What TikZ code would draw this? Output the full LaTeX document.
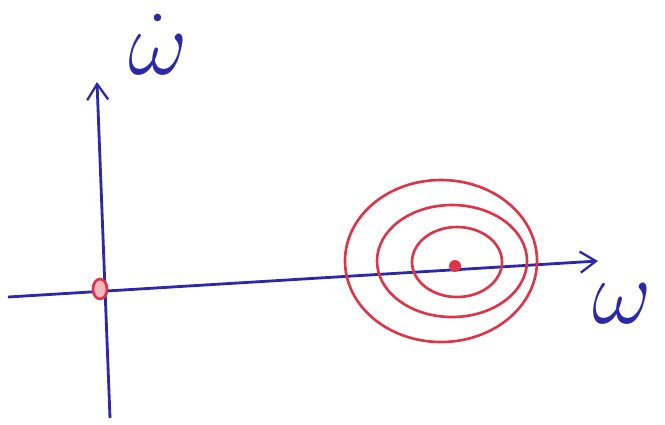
\documentclass[tikz,border=0pt]{standalone}
\usepackage{amsmath}
\usepackage{tikz}
\usetikzlibrary{positioning,arrows.meta,calc}
\usepackage{xcolor}
\definecolor{penblue}{RGB}{45,40,170}
\definecolor{penred}{RGB}{222,52,72}

\begin{document}
\begin{tikzpicture}[>={Straight Barb[length=9pt,width=12pt,line width=1.3pt]}, x=0.02cm, y=-0.02cm]
    \useasboundingbox (0,0) rectangle (665,424);
    \tikzset{axis/.style={->, penblue, line width=1.6pt},
             orbit/.style={penred, line width=1.5pt},
             lbl/.style={penblue, font=\Huge, scale=2.1}}

    % Axes end points
    \coordinate (xstart) at (8,297);
    \coordinate (xend) at (598,261);
    \coordinate (ystart) at (110,418);
    \coordinate (yend) at (97,82);

    % Axes
    \draw[axis] (xstart) -- (xend);
    \draw[axis] (ystart) -- (yend);
    \node[lbl] (wdot) at (158,44) {$\dot{\omega}$};
    \node[lbl] (w) at (622,304) {$\omega$};

    % Equilibrium at origin
    \coordinate (origin) at (100,289);
    \draw[orbit, fill=penred!35] (origin) ellipse (7 and 10);

    % Stable point with closed orbits
    \coordinate (eq) at (455,266);
    \fill[penred] (eq) circle (6);
    \draw[orbit] (457,262) ellipse (45 and 35);
    \draw[orbit] (452,261) ellipse (75 and 56);
    \draw[orbit] (441,261) ellipse (96 and 81);
\end{tikzpicture}
\end{document}
